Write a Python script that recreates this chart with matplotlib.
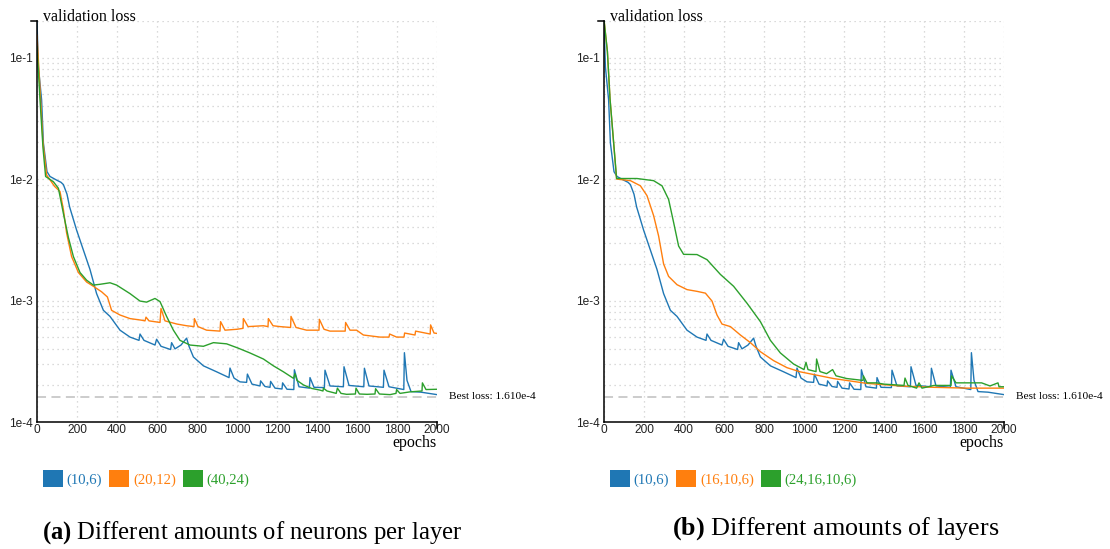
import matplotlib
matplotlib.use("Agg")
import matplotlib.pyplot as plt
from matplotlib.patches import Patch
from matplotlib.ticker import FixedLocator, FuncFormatter, LogLocator, NullFormatter

plt.rcParams['font.family'] = ['Liberation Sans', 'DejaVu Sans']
plt.rcParams['mathtext.fontset'] = 'custom'
plt.rcParams['mathtext.rm'] = 'Liberation Serif'
plt.rcParams['mathtext.bf'] = 'Liberation Serif:bold'

colors = ['#1f77b4', '#ff7f0e', '#2ca02c']
best_loss = 1.610e-4

# (10,6) - same run appears in both panels
ep_10_6 = [0, 7, 23, 32, 50, 65, 98, 120, 132, 150, 163, 198, 232, 265, 298, 332, 365,
           415, 465, 510, 515, 535, 590, 598, 620, 668, 673, 690, 720, 748, 760, 782,
           832, 898, 960, 965, 985, 1015, 1048, 1052, 1075, 1115, 1118, 1140, 1165,
           1168, 1190, 1225, 1228, 1250, 1284, 1287, 1310, 1362, 1365, 1385, 1437,
           1440, 1465, 1532, 1535, 1560, 1634, 1637, 1660, 1732, 1735, 1760, 1834,
           1837, 1850, 1870, 1920, 2000]
loss_10_6 = [0.197, 0.084, 0.045, 0.0198, 0.0115, 0.0105, 0.0098, 0.0094, 0.009, 0.0075,
             0.0059, 0.0038, 0.0026, 0.0018, 0.00114, 0.00083, 0.00074, 0.00057, 0.0005,
             0.00047, 0.00053, 0.00047, 0.00043, 0.00048, 0.00042, 0.000395, 0.00045,
             0.0004, 0.00043, 0.00049, 0.00042, 0.000343, 0.00029, 0.000259, 0.000232,
             0.000278, 0.00023, 0.000214, 0.000212, 0.000248, 0.000205, 0.000198,
             0.000218, 0.000196, 0.000193, 0.000216, 0.00019, 0.000187, 0.00021,
             0.000186, 0.000185, 0.000269, 0.000195, 0.00019, 0.000232, 0.000193,
             0.000192, 0.000267, 0.000198, 0.000195, 0.000285, 0.0002, 0.000195,
             0.000277, 0.000198, 0.000193, 0.000267, 0.000195, 0.000185, 0.000372,
             0.00022, 0.000178, 0.000176, 0.000168]

# (20,12)
ep_20_12 = [0, 18, 30, 48, 88, 115, 132, 148, 173, 207, 248, 282, 323, 352, 373, 415, 465,
            520, 540, 545, 560, 615, 620, 640, 700, 748, 785, 787, 805, 848, 915, 918,
            940, 1000, 1030, 1032, 1055, 1132, 1155, 1157, 1180, 1215, 1268, 1270, 1295,
            1348, 1410, 1412, 1435, 1465, 1541, 1543, 1565, 1598, 1632, 1715, 1760, 1763,
            1798, 1835, 1838, 1890, 1893, 1966, 1968, 1985, 2000]
loss_20_12 = [0.153, 0.045, 0.02, 0.0108, 0.0087, 0.0079, 0.0056, 0.0036, 0.0023, 0.0017,
              0.00142, 0.00131, 0.00118, 0.00107, 0.00083, 0.00076, 0.00071, 0.00069,
              0.00068, 0.00073, 0.00068, 0.00066, 0.00086, 0.00068, 0.00064, 0.00062,
              0.00061, 0.00071, 0.00061, 0.00057, 0.00056, 0.00067, 0.00057, 0.00058,
              0.00059, 0.00071, 0.00061, 0.00062, 0.00061, 0.00071, 0.00062, 0.00061,
              0.0006, 0.00074, 0.0006, 0.00057, 0.00057, 0.0007, 0.00058, 0.00056,
              0.00056, 0.00066, 0.00057, 0.00057, 0.00052, 0.0005, 0.0005, 0.00053,
              0.0005, 0.0005, 0.00054, 0.00052, 0.00056, 0.00053, 0.00063, 0.00054,
              0.000536]

# (40,24)
ep_40_24 = [0, 15, 30, 43, 82, 107, 132, 157, 182, 215, 248, 282, 315, 365, 398, 465, 515,
            548, 590, 615, 648, 682, 715, 765, 832, 882, 948, 1007, 1065, 1132, 1182,
            1232, 1282, 1290, 1300, 1332, 1373, 1415, 1430, 1432, 1450, 1496, 1502, 1520,
            1548, 1592, 1595, 1612, 1650, 1690, 1693, 1712, 1765, 1795, 1798, 1815, 1865,
            1925, 1927, 1945, 2000]
loss_40_24 = [0.123, 0.045, 0.018, 0.0105, 0.0095, 0.0084, 0.0052, 0.0033, 0.0023, 0.0017,
              0.00147, 0.00134, 0.00136, 0.0014, 0.00134, 0.00114, 0.00099, 0.00097,
              0.00104, 0.00098, 0.00074, 0.00057, 0.00047, 0.00043, 0.00042, 0.00045,
              0.00044, 0.000405, 0.00037, 0.00033, 0.00029, 0.000259, 0.000229, 0.00025,
              0.00022, 0.000202, 0.000189, 0.000183, 0.00018, 0.00019, 0.00018, 0.000172,
              0.00019, 0.000172, 0.000169, 0.00017, 0.00019, 0.00017, 0.000169, 0.00017,
              0.000188, 0.00017, 0.000168, 0.000172, 0.000185, 0.000172, 0.000177,
              0.00018, 0.00021, 0.000185, 0.000186]

# (16,10,6)
ep_16_10_6 = [0, 17, 30, 63, 132, 182, 215, 248, 273, 298, 323, 365, 415, 465, 507, 540,
              565, 590, 632, 682, 732, 782, 848, 915, 980, 1147, 1313, 1480, 1647, 1813,
              2000]
loss_16_10_6 = [0.205, 0.112, 0.046, 0.01, 0.0097, 0.0088, 0.0073, 0.005, 0.0034, 0.002,
                0.00158, 0.00135, 0.00123, 0.00119, 0.00115, 0.00099, 0.00076, 0.00064,
                0.00061, 0.00052, 0.00045, 0.000379, 0.00032, 0.00028, 0.000259,
                0.000228, 0.000208, 0.000198, 0.000193, 0.00019, 0.00019]

# (24,16,10,6)
ep_24_16_10_6 = [0, 17, 30, 63, 165, 248, 290, 323, 348, 373, 398, 465, 515, 582, 648, 715,
                 782, 832, 882, 948, 1000, 1010, 1020, 1060, 1063, 1080, 1113, 1143, 1160,
                 1213, 1295, 1297, 1315, 1363, 1400, 1500, 1505, 1520, 1563, 1575, 1590,
                 1650, 1735, 1738, 1760, 1797, 1888, 1930, 1970, 1975, 2000]
loss_24_16_10_6 = [0.205, 0.112, 0.046, 0.0101, 0.0101, 0.0097, 0.0088, 0.0068, 0.0044,
                   0.00281, 0.0024, 0.00239, 0.00217, 0.00164, 0.00131, 0.00095, 0.00067,
                   0.00047, 0.00037, 0.0003, 0.00027, 0.00031, 0.00027, 0.00026, 0.00033,
                   0.00026, 0.00025, 0.00027, 0.00024, 0.000228, 0.00022, 0.00024,
                   0.00021, 0.00021, 0.000205, 0.0002, 0.00023, 0.0002, 0.00019, 0.00021,
                   0.00019, 0.0002, 0.0002, 0.00024, 0.00021, 0.00021, 0.00021, 0.000198,
                   0.00021, 0.000195, 0.000195]

x_ticks = list(range(0, 2001, 200))
y_ticks = [1e-4, 1e-3, 1e-2, 1e-1]
y_tick_labels = ['1e-4', '1e-3', '1e-2', '1e-1']

panels = [
    ([(ep_10_6, loss_10_6), (ep_20_12, loss_20_12), (ep_40_24, loss_40_24)],
     ['(10,6)', '(20,12)', '(40,24)'],
     r'$\mathbf{(a)}$ Different amounts of neurons per layer'),
    ([(ep_10_6, loss_10_6), (ep_16_10_6, loss_16_10_6), (ep_24_16_10_6, loss_24_16_10_6)],
     ['(10,6)', '(16,10,6)', '(24,16,10,6)'],
     r'$\mathbf{(b)}$ Different amounts of layers'),
]

W, H = 1110, 549
fig = plt.figure(figsize=(W / 100, H / 100), dpi=100)

ax_left_px = [37, 604]
caption_x = [252, 836]
caption_base = [539, 535]
caption_size = [17.7, 18.8]
serif = 'Liberation Serif'

for i, (series, labels, caption) in enumerate(panels):
    ax = fig.add_axes([ax_left_px[i] / W, (H - 422) / H, 400 / W, 401 / H])
    for (ep, loss), c in zip(series, colors):
        ax.plot(ep, loss, color=c, lw=1.0)
    ax.axhline(best_loss, color='#c8c8c8', lw=1.3, ls=(0, (5, 3)), zorder=0)

    ax.set_yscale('log')
    ax.set_xlim(0, 2000)
    ax.set_ylim(1e-4, 0.2)
    ax.xaxis.set_major_locator(FixedLocator(x_ticks))
    ax.yaxis.set_major_locator(FixedLocator(y_ticks))
    ax.yaxis.set_major_formatter(FuncFormatter(lambda v, p: y_tick_labels[y_ticks.index(v)] if v in y_ticks else ''))
    ax.yaxis.set_minor_locator(LogLocator(base=10, subs=range(2, 10)))
    ax.yaxis.set_minor_formatter(NullFormatter())
    ax.tick_params(axis='both', which='both', length=0, labelsize=8.6, colors='#222222')
    ax.tick_params(axis='y', pad=3)
    ax.tick_params(axis='x', pad=1.5)
    ax.grid(True, which='both', color='#cfcfcf', lw=0.9, ls=(0, (1, 3)))
    ax.set_axisbelow(True)
    for s in ['top', 'right']:
        ax.spines[s].set_visible(False)
    for s in ['left', 'bottom']:
        ax.spines[s].set_color('black')
        ax.spines[s].set_linewidth(1.1)
    # outer ticks at the ends of the axes
    ax.plot([-0.015, 0], [1, 1], transform=ax.transAxes, color='black', lw=1.1, clip_on=False)
    ax.plot([1, 1], [0, -0.015], transform=ax.transAxes, color='black', lw=1.1, clip_on=False)

    ax.text(0.015, 1.0, 'validation loss', transform=ax.transAxes, family=serif,
            fontsize=11.5, ha='left', va='baseline')
    ax.text(1.0, -25 / 401, 'epochs', transform=ax.transAxes, family=serif,
            fontsize=11.5, ha='right', va='baseline')
    ax.text(1.0 + 12 / 400, best_loss, 'Best loss: 1.610e-4',
            transform=ax.get_yaxis_transform(), family=serif, fontsize=8.2,
            ha='left', va='center')

    handles = [Patch(facecolor=c, edgecolor='none') for c in colors]
    leg = ax.legend(handles, labels, loc='upper left', bbox_to_anchor=(0.015, -48.5 / 401),
                    ncol=3, frameon=False, prop={'family': serif, 'size': 10.6},
                    handlelength=1.35, handleheight=1.35, handletextpad=0.25,
                    columnspacing=0.5, borderpad=0, borderaxespad=0)
    for t, c in zip(leg.get_texts(), colors):
        t.set_color(c)

    fig.text(caption_x[i] / W, 1 - caption_base[i] / H, caption, family=serif,
             fontsize=caption_size[i], ha='center', va='baseline')

fig.savefig('out.png', dpi=100)
